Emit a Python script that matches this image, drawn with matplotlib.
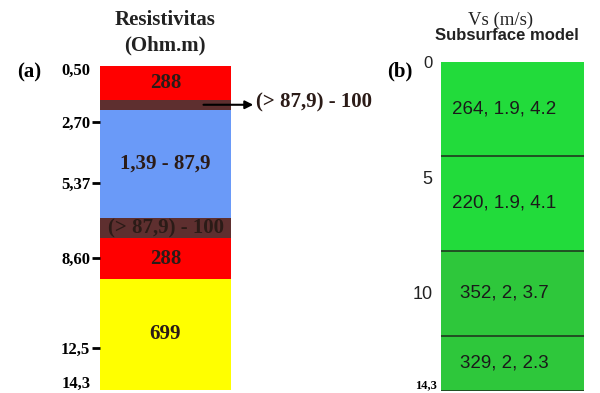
import matplotlib
matplotlib.use('Agg')
import matplotlib.pyplot as plt

# Resistivity column (a): layer boundaries in metres, fills and labels
res_bounds = [0.3, 1.75, 2.2, 6.85, 7.75, 9.5, 14.3]
res_labels = ['288', '', '1,39 - 87,9', '(> 87,9) - 100', '288', '699']
res_colors = ['#ff0000', '#5e2f2f', '#6a9af8', '#5e2f2f', '#ff0000', '#ffff00']
res_ticks = [2.7, 5.37, 8.6, 12.5]
res_ticklabels = ['2,70', '5,37', '8,60', '12,5']

# Shear-wave column (b): layer boundaries and "Vs, density, thickness" labels
vs_bounds = [0, 4.1, 8.2, 11.9, 14.3]
vs_labels = ['264, 1.9, 4.2', '220, 1.9, 4.1', '352, 2, 3.7', '329, 2, 2.3']
vs_colors = ['#22db3b', '#22db3b', '#2ec73b', '#2ec73b']
vs_ticks = [0, 5, 10]

serif = 'Liberation Serif'
sans = 'Liberation Sans'
txt_dark = '#2b1b17'

fig = plt.figure(figsize=(6, 3.93), dpi=100)

# ---- (a) resistivity ----
ax1 = fig.add_axes([100 / 600, 1 - 390 / 393, 131 / 600, 324 / 393])
for top, bot, col, lab in zip(res_bounds[:-1], res_bounds[1:], res_colors, res_labels):
    ax1.bar(0.5, bot - top, bottom=top, width=1.0, color=col, edgecolor='none')
    if lab:
        ax1.text(0.5, (top + bot) / 2, lab, ha='center', va='center',
                 fontsize=15, fontweight='bold', family=serif, color=txt_dark)
ax1.set_xlim(0, 1)
ax1.set_ylim(res_bounds[-1], res_bounds[0])
for s in ax1.spines.values():
    s.set_visible(False)
ax1.set_xticks([])
ax1.set_yticks(res_ticks)
ax1.set_yticklabels(res_ticklabels, fontsize=12, fontweight='bold', family=serif)
ax1.tick_params(axis='y', length=6, width=2, pad=1)
ax1.text(-0.07, 0.5, '0,50', ha='right', va='center',
         fontsize=12, fontweight='bold', family=serif)
ax1.text(-0.07, 14.05, '14,3', ha='right', va='center',
         fontsize=12, fontweight='bold', family=serif)

# arrow pointing out of the thin layer
mid = (res_bounds[1] + res_bounds[2]) / 2
ax1.annotate('', xy=(1.17, mid), xytext=(0.79, mid),
             arrowprops=dict(arrowstyle='-|>', color='black', lw=1.5,
                             mutation_scale=12, shrinkA=0, shrinkB=0),
             annotation_clip=False)
ax1.text(1.19, mid - 0.08, '(> 87,9) - 100', ha='left', va='center', fontsize=15,
         fontweight='bold', family=serif, color=txt_dark, clip_on=False)

fig.text(165 / 600, 1 - 20 / 393, 'Resistivitas', ha='center', va='center',
         fontsize=15, fontweight='bold', family=serif, color='#222222')
fig.text(165 / 600, 1 - 45 / 393, '(Ohm.m)', ha='center', va='center',
         fontsize=15, fontweight='bold', family=serif, color='#222222')
fig.text(29 / 600, 1 - 72 / 393, '(a)', ha='center', va='center',
         fontsize=15, fontweight='bold', family=serif)

# ---- (b) shear-wave velocity ----
ax2 = fig.add_axes([441 / 600, 1 - 391 / 393, 143 / 600, 329 / 393])
for top, bot, col, lab in zip(vs_bounds[:-1], vs_bounds[1:], vs_colors, vs_labels):
    ax2.bar(0.5, bot - top, bottom=top, width=1.0, color=col, edgecolor='none')
    ax2.text(0.44, (top + bot) / 2, lab, ha='center', va='center',
             fontsize=13.5, family=sans, color='#1a1a1a')
for b in vs_bounds[1:]:
    ax2.axhline(b, color='#1f3a1f', lw=1.2)
ax2.set_xlim(0, 1)
ax2.set_ylim(vs_bounds[-1], vs_bounds[0])
for s in ax2.spines.values():
    s.set_visible(False)
ax2.set_xticks([])
ax2.set_yticks(vs_ticks)
ax2.set_yticklabels([str(t) for t in vs_ticks], fontsize=13, family=sans,
                    color='#222222')
ax2.tick_params(axis='y', length=0, pad=6)
ax2.get_yticklabels()[0].set_fontsize(12)
ax2.text(-0.03, 14.05, '14,3', ha='right', va='center',
         fontsize=9, fontweight='bold', family=serif)

fig.text(501 / 600, 1 - 20 / 393, 'Vs (m/s)', ha='center', va='center',
         fontsize=13.5, family=serif, color='#222222')
fig.text(507 / 600, 1 - 36 / 393, 'Subsurface model', ha='center', va='center',
         fontsize=12, fontweight='bold', family=sans, color='#222222')
fig.text(400 / 600, 1 - 71 / 393, '(b)', ha='center', va='center',
         fontsize=15, fontweight='bold', family=serif)

fig.savefig('out.png', dpi=100)
